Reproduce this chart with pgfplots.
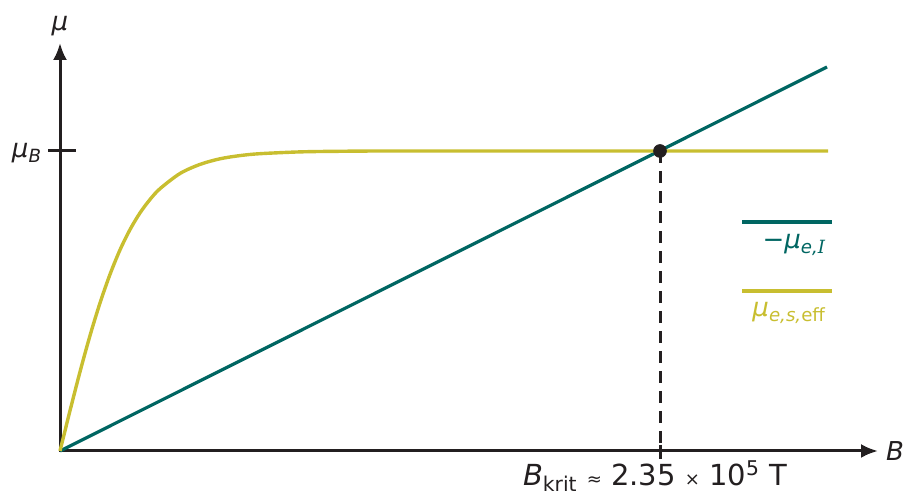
\documentclass[border=0pt]{standalone}
\usepackage{pgfplots}
\pgfplotsset{compat=1.18}
\usepackage{fontspec}
\setmainfont{DejaVu Sans}
\newfontfamily\serifit{DejaVu Serif}
\usetikzlibrary{arrows.meta}
\definecolor{tealc}{RGB}{0,102,98}
\definecolor{yellowc}{RGB}{200,190,48}
\definecolor{axc}{RGB}{35,31,32}
\begin{document}
\begin{tikzpicture}[every node/.style={inner sep=0pt, outer sep=0pt}]
\begin{axis}[x=0.5pt, y=0.5pt, scale only axis, axis lines=none,
  xmin=-60, xmax=844, ymin=-45, ymax=451, clip=false,
  font=\fontsize{13}{15}\selectfont]
\path (axis cs:-60,-45) rectangle (axis cs:844,451);
% axes
\draw[axc, line width=1.5pt, -{Latex[length=8.5pt,width=7pt]}] (axis cs:-1,0) -- (axis cs:818,0);
\draw[axc, line width=1.5pt, -{Latex[length=8.5pt,width=7pt]}] (axis cs:0,-1) -- (axis cs:0,408);
\draw[axc, line width=1.5pt] (axis cs:-12,300) -- (axis cs:16,300);
% data
\addplot[tealc, line width=1.6pt] coordinates {(0,0) (767,384)};
\addplot[yellowc, line width=1.7pt, smooth] coordinates {
(0,0) (5,20.2) (10,40.3) (20,79.2) (30,115.4) (40,148.0) (50,176.6) (60,201.1)
(70,221.4) (80,238.1) (90,251.5) (100,262.3) (120,277.5) (140,286.6) (160,292.2)
(180,295.4) (200,297.3) (240,299.1) (280,299.7) (350,300) (768,300)};
\addplot[axc, line width=1.5pt, dash pattern=on 6pt off 4pt] coordinates {(600,300) (600,0)};
\draw[axc, line width=1.5pt] (axis cs:600,6) -- (axis cs:600,-8);
\addplot[axc, only marks, mark=*, mark size=3.2pt] coordinates {(600,300)};
% labels
\node[axc, anchor=center] at (axis cs:0,425) {\itshape μ};
\node[axc, anchor=center] at (axis cs:835,0) {\itshape B};
\node[axc, anchor=east] at (axis cs:-18,298) {\itshape μ\textsubscript{\itshape B}};
\node[axc, anchor=base, font=\fontsize{14.5}{17}\selectfont] at (axis cs:595,-35) {\itshape B\upshape\textsubscript{krit} {\small≈} 2.35 {\small×} 10\textsuperscript{5} T};
% legend
\draw[tealc, line width=2pt] (axis cs:682,229) -- (axis cs:772,229);
\draw[yellowc, line width=2pt] (axis cs:682,160) -- (axis cs:772,160);
\node[tealc, anchor=east] at (axis cs:766,206) {−\itshape μ\textsubscript{e,{\serifit\itshape I}}};
\node[yellowc, anchor=east] at (axis cs:766,138) {\itshape μ\textsubscript{e,s,\upshape eff}};
\end{axis}
\end{tikzpicture}
\end{document}
